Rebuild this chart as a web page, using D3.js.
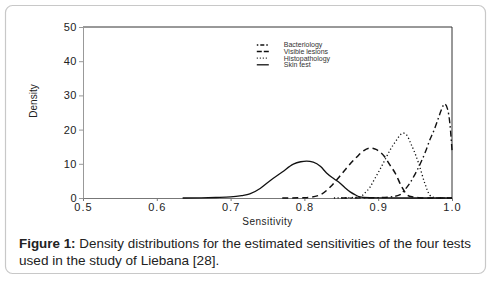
<!DOCTYPE html>
<html>
<head>
<meta charset="utf-8">
<script src="https://cdn.jsdelivr.net/npm/d3@7"></script>
<style>
  body { margin: 0; background: #fff; }
  svg { display: block; font-family: "Liberation Sans", Arial, sans-serif; }
</style>
</head>
<body>
<script>
// legend / series names
const seriesNames = ["Bacteriology", "Visible lesions", "Histopathology", "Skin test"];

// density curves (sensitivity, density)
const bactX = [0.85, 0.9, 0.92, 0.929, 0.936, 0.943, 0.95, 0.957, 0.964, 0.97, 0.976, 0.981, 0.986, 0.99, 0.994, 0.997, 1.0];
const bactY = [0, 0.1, 0.4, 0.9, 2.4, 4.4, 7, 10, 13.5, 17, 20, 23, 26, 27.5, 26, 22, 14];

const lesionX = [0.77, 0.8, 0.82, 0.835, 0.845, 0.855, 0.863, 0.871, 0.88, 0.889, 0.897, 0.909, 0.916, 0.923, 0.932, 0.94, 0.947, 0.955, 0.97, 1.0];
const lesionY = [0, 0.1, 0.8, 3.2, 5.6, 8.2, 10.2, 12, 13.8, 14.6, 14.2, 12, 9.6, 7.3, 3.2, 0.8, 0.3, 0.1, 0, 0];

const histoX = [0.84, 0.86, 0.875, 0.882, 0.889, 0.895, 0.902, 0.91, 0.916, 0.925, 0.93, 0.934, 0.939, 0.944, 0.95, 0.955, 0.963, 0.97, 0.975, 0.98, 1.0];
const histoY = [0, 0.1, 0.3, 1.5, 3.2, 5.5, 8.2, 11.5, 14, 17, 18.5, 19, 18.3, 16, 13, 10, 4.4, 0.8, 0.2, 0, 0];

const skinX = [0.635, 0.66, 0.68, 0.7, 0.715, 0.726, 0.74, 0.753, 0.77, 0.785, 0.795, 0.803, 0.812, 0.822, 0.83, 0.84, 0.848, 0.855, 0.862, 0.87, 0.875, 0.88, 0.9, 0.95, 1.0];
const skinY = [0, 0.05, 0.15, 0.3, 0.7, 1.2, 2.8, 5, 7.6, 9.9, 10.6, 10.8, 10.5, 9.2, 7.3, 5.6, 4.4, 3, 1.8, 0.8, 0.3, 0.15, 0.05, 0, 0];

// axis ticks
const xTicks = [0.5, 0.6, 0.7, 0.8, 0.9, 1.0];
const yTicks = [0, 10, 20, 30, 40, 50];

const W = 491, H = 281;
const margin = {top: 27, right: 39, bottom: 83, left: 83},
    width = W - margin.left - margin.right,
    height = H - margin.top - margin.bottom;

const root = d3.select("body").append("svg")
    .attr("width", W)
    .attr("height", H);

// rounded frame around figure + caption
root.append("rect")
    .attr("x", 5.5).attr("y", 5.5)
    .attr("width", 480).attr("height", 268)
    .attr("rx", 7)
    .attr("fill", "none")
    .attr("stroke", "#c8c8c8")
    .attr("stroke-width", 1.2);

const svg = root.append("g")
    .attr("transform", `translate(${margin.left}, ${margin.top})`);

const x = d3.scaleLinear().domain([0.5, 1.0]).range([0, width]);
const y = d3.scaleLinear().domain([0, 50]).range([height, 0]);

// plot box (top and right edges)
svg.append("path")
    .attr("d", `M0,0H${width}V${height}`)
    .attr("fill", "none")
    .attr("stroke", "#333")
    .attr("stroke-width", 1);

// X axis
const xAxis = svg.append("g")
    .attr("transform", `translate(0, ${height})`)
    .call(d3.axisBottom(x).tickValues(xTicks).tickFormat(d3.format(".1f")).tickSize(3).tickSizeOuter(0));
xAxis.select(".domain").attr("stroke", "#777");
xAxis.selectAll(".tick line").attr("stroke", "#777");
xAxis.selectAll("text")
    .attr("font-size", 11)
    .attr("fill", "#222")
    .attr("dy", "0.65em")
    .style("letter-spacing", "1px");

// Y axis
const yAxis = svg.append("g")
    .call(d3.axisLeft(y).tickValues(yTicks).tickSize(4).tickSizeOuter(0));
yAxis.select(".domain").attr("stroke", "#999");
yAxis.selectAll(".tick line").attr("stroke", "#999");
yAxis.selectAll("text")
    .attr("font-size", 11)
    .attr("fill", "#222")
    .attr("x", -6)
    .style("letter-spacing", "0.5px");

// axis titles
svg.append("text")
    .attr("x", width / 2)
    .attr("y", height + 27)
    .attr("text-anchor", "middle")
    .attr("font-size", 10)
    .attr("fill", "#222")
    .style("letter-spacing", "0.5px")
    .text("Sensitivity");

svg.append("text")
    .attr("transform", "rotate(-90)")
    .attr("x", -74)
    .attr("y", -46)
    .attr("text-anchor", "middle")
    .attr("font-size", 10)
    .attr("fill", "#222")
    .text("Density");

// curves
const styles = [
  {xs: bactX, ys: bactY, dash: "6,3,1.5,3", w: 1.4},
  {xs: lesionX, ys: lesionY, dash: "6,4", w: 1.5},
  {xs: histoX, ys: histoY, dash: "1.2,2.4", w: 1.3},
  {xs: skinX, ys: skinY, dash: null, w: 1.3}
];

const line = d3.line()
    .x(d => x(d[0]))
    .y(d => y(d[1]))
    .curve(d3.curveMonotoneX);

styles.forEach(s => {
  svg.append("path")
      .datum(d3.zip(s.xs, s.ys))
      .attr("d", line)
      .attr("fill", "none")
      .attr("stroke", "#111")
      .attr("stroke-width", s.w)
      .attr("stroke-dasharray", s.dash);
});

// legend (short samples, so use smaller dash patterns)
const legendDash = ["1.5,2,4,2,1.5", "5,2", "1,2", null];
const legend = svg.append("g")
    .attr("transform", `translate(${x(0.7355)}, ${18})`);

seriesNames.forEach((name, i) => {
  const g = legend.append("g").attr("transform", `translate(0, ${i * 6.6})`);
  g.append("line")
      .attr("x1", 0).attr("x2", 12)
      .attr("stroke", "#111")
      .attr("stroke-width", styles[i].w)
      .attr("stroke-dasharray", legendDash[i]);
  g.append("text")
      .attr("x", 27)
      .attr("dy", "0.35em")
      .attr("font-size", 7)
      .attr("fill", "#333")
      .text(name);
});

// caption
const cap = root.append("text")
    .attr("x", 19)
    .attr("y", 248)
    .attr("font-size", 13.6)
    .attr("fill", "#222")
    .attr("textLength", 452)
    .attr("lengthAdjust", "spacingAndGlyphs");
cap.append("tspan").attr("font-weight", "bold").text("Figure 1:");
cap.append("tspan").text(" Density distributions for the estimated sensitivities of the four tests");

root.append("text")
    .attr("x", 19)
    .attr("y", 265)
    .attr("font-size", 13.6)
    .attr("fill", "#222")
    .text("used in the study of Liebana [28].");
</script>
</body>
</html>
